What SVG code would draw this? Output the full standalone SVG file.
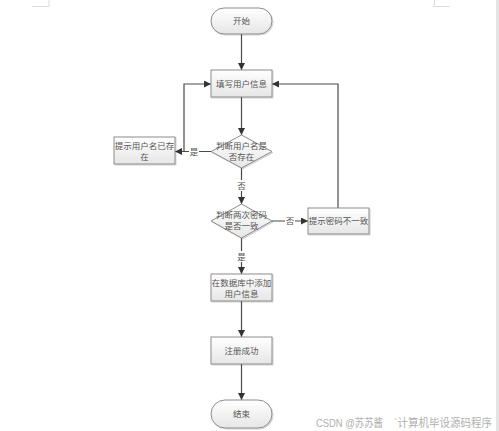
<svg xmlns="http://www.w3.org/2000/svg" width="499" height="431" viewBox="0 0 499 431">
<style>
.shape{fill:url(#g);stroke:#8c8c8c;stroke-width:1;filter:url(#sh)}
.t{font-family:"Liberation Serif","Noto Sans CJK SC",serif;font-size:8.5px;fill:#555;text-anchor:middle}
.lbl{font-family:"Liberation Serif","Noto Sans CJK SC",serif;font-size:8.5px;fill:#555;text-anchor:middle}
.ln{fill:none;stroke:#4a4a4a;stroke-width:1.2}
.ar{marker-end:url(#a)}
.wm{font-family:"Liberation Sans","Noto Sans CJK SC",sans-serif;font-size:11px;fill:#b0b0b0}
</style>
<defs>
<linearGradient id="g" x1="0" y1="0" x2="0" y2="1">
<stop offset="0" stop-color="#ffffff"/>
<stop offset="1" stop-color="#e6e6e6"/>
</linearGradient>
<filter id="sh" x="-10%" y="-10%" width="130%" height="140%">
<feDropShadow dx="1" dy="1" stdDeviation="0.6" flood-color="#000" flood-opacity="0.18"/>
</filter>
<marker id="a" viewBox="0 0 10 10" refX="10" refY="5" markerWidth="7" markerHeight="7" markerUnits="userSpaceOnUse" orient="auto">
<path d="M0,0 L10,5 L0,10 z" fill="#333"/>
</marker>
</defs>
<rect width="499" height="431" fill="#fff"/>
<g id="page-marks" stroke="#dcdcdc" stroke-width="1" fill="none">
<path d="M32,6.5 H49 V0"/>
<path d="M433,6.5 H450 M434.5,6.5 V0"/>
<rect x="496" y="0" width="3" height="431" fill="#e4e4e4" stroke="none"/>
</g>
<g id="connectors">
<line class="ln ar" x1="241.5" y1="34" x2="241.5" y2="70"/>
<line class="ln ar" x1="241.5" y1="97" x2="241.5" y2="135"/>
<line class="ln ar" x1="211" y1="151.5" x2="175" y2="151.5"/>
<polyline class="ln ar" points="184,151.5 184,84 211,84"/>
<line class="ln ar" x1="241.5" y1="168" x2="241.5" y2="204"/>
<line class="ln ar" x1="272" y1="221" x2="308" y2="221"/>
<polyline class="ln ar" points="338,208 338,84 272,84"/>
<line class="ln ar" x1="241.5" y1="238" x2="241.5" y2="274"/>
<line class="ln ar" x1="241.5" y1="301" x2="241.5" y2="337"/>
<line class="ln ar" x1="241.5" y1="364" x2="241.5" y2="400"/>
<rect x="189" y="146" width="10" height="11" fill="#fff"/>
<text class="lbl" x="194" y="154.5">是</text>
<rect x="236.5" y="180" width="10" height="11" fill="#fff"/>
<text class="lbl" x="241.5" y="188.5">否</text>
<rect x="285" y="216" width="10" height="11" fill="#fff"/>
<text class="lbl" x="290" y="224">否</text>
<rect x="236.5" y="251" width="10" height="11" fill="#fff"/>
<text class="lbl" x="241.5" y="259.5">是</text>
</g>
<g id="start">
<rect class="shape" x="211" y="8" width="61" height="26" rx="13"/>
<text class="t" x="241.5" y="24">开始</text>
</g>
<g id="fill-info">
<rect class="shape" x="211" y="70" width="61" height="27"/>
<text class="t" x="241.5" y="86.5">填写用户信息</text>
</g>
<g id="check-user">
<polygon class="shape" points="241.5,135 272,151.5 241.5,168 211,151.5"/>
<text class="t" x="241.5" y="148.5">判断用户名是</text>
<text class="t" x="241.5" y="159.5">否存在</text>
</g>
<g id="user-exists">
<rect class="shape" x="114" y="137" width="61" height="27"/>
<text class="t" x="144.5" y="148.5">提示用户名已存</text>
<text class="t" x="144.5" y="159.5">在</text>
</g>
<g id="check-pwd">
<polygon class="shape" points="241.5,204 272,221 241.5,238 211,221"/>
<text class="t" x="241.5" y="218">判断两次密码</text>
<text class="t" x="241.5" y="229">是否一致</text>
</g>
<g id="pwd-mismatch">
<rect class="shape" x="308" y="208" width="61" height="26"/>
<text class="t" x="338.5" y="224">提示密码不一致</text>
</g>
<g id="add-db">
<rect class="shape" x="211" y="274" width="61" height="27"/>
<text class="t" x="241.5" y="285.5">在数据库中添加</text>
<text class="t" x="241.5" y="296.5">用户信息</text>
</g>
<g id="success">
<rect class="shape" x="211" y="337" width="61" height="27"/>
<text class="t" x="241.5" y="353.5">注册成功</text>
</g>
<g id="end">
<rect class="shape" x="211" y="400" width="61" height="28" rx="14"/>
<text class="t" x="241.5" y="417">结束</text>
</g>
<text class="wm" x="316" y="427" textLength="67" lengthAdjust="spacingAndGlyphs">CSDN @苏苏酱</text>
<text class="wm" x="394" y="427" textLength="98" lengthAdjust="spacingAndGlyphs">`计算机毕设源码程序</text>
</svg>
